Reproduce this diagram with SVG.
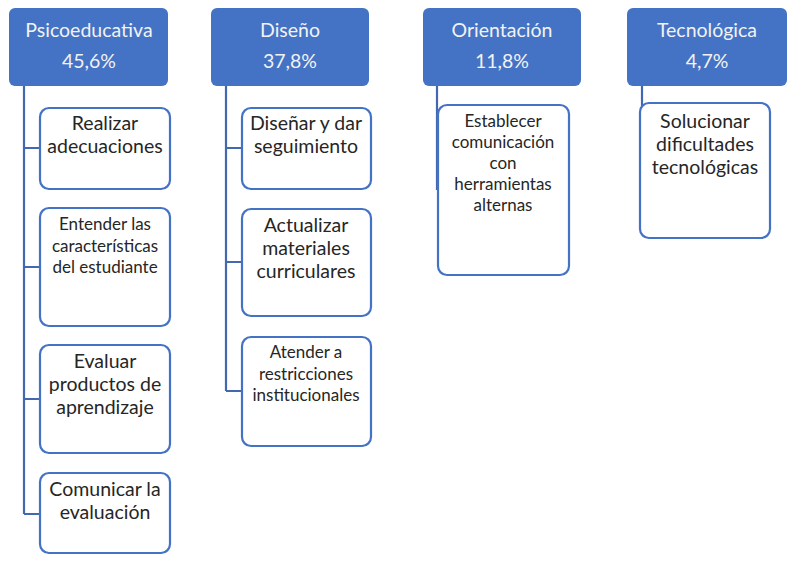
<svg xmlns="http://www.w3.org/2000/svg" width="800" height="567" viewBox="0 0 800 567">
<style>
.hd{fill:#4472C4;}
.ht{fill:#F2F2F2;font-family:Lato,"Liberation Sans",sans-serif;font-size:19.5px;text-anchor:middle;}
.bx{fill:#FFFFFF;stroke:#4472C4;stroke-width:2.2;}
.t{fill:#262626;font-family:Lato,"Liberation Sans",sans-serif;text-anchor:middle;}
.l{font-size:19.5px;}
.s{font-size:17px;}
.c{fill:none;stroke:#4268B0;stroke-width:2.2;}
</style>
<rect width="800" height="567" fill="#FFFFFF"/>
<g id="connectors">
<path class="c" d="M24,86 V514 M24,148 H40 M24,267 H40 M24,399 H40 M24,514 H40"/>
<path class="c" d="M226,86 V391 M226,148 H242 M226,262 H242 M226,391 H242"/>
<path class="c" d="M437,86 V190"/>
<path class="c" d="M642,86 V110"/>
</g>
<g id="h-psico"><rect class="hd" x="9" y="8" width="159" height="78" rx="6"/><text class="ht" x="89" y="37">Psicoeducativa</text><text class="ht" x="89" y="68">45,6%</text></g>
<g id="h-diseno"><rect class="hd" x="211" y="8" width="158" height="78" rx="6"/><text class="ht" x="290" y="37">Diseño</text><text class="ht" x="290" y="68">37,8%</text></g>
<g id="h-orient"><rect class="hd" x="423" y="8" width="158" height="78" rx="6"/><text class="ht" x="502" y="37">Orientación</text><text class="ht" x="502" y="68">11,8%</text></g>
<g id="h-tecno"><rect class="hd" x="627" y="8" width="160" height="78" rx="6"/><text class="ht" x="707" y="37">Tecnológica</text><text class="ht" x="707" y="68">4,7%</text></g>

<g id="p1"><rect class="bx" x="40" y="108" width="130" height="81" rx="9"/><text class="t l" x="105" y="130">Realizar</text><text class="t l" x="105" y="153">adecuaciones</text></g>
<g id="p2"><rect class="bx" x="40" y="208" width="130" height="118" rx="9"/><text class="t s" x="105" y="230">Entender las</text><text class="t s" x="105" y="252">características</text><text class="t s" x="105" y="273">del estudiante</text></g>
<g id="p3"><rect class="bx" x="40" y="345" width="130" height="108" rx="9"/><text class="t l" x="105" y="368">Evaluar</text><text class="t l" x="105" y="391">productos de</text><text class="t l" x="105" y="414">aprendizaje</text></g>
<g id="p4"><rect class="bx" x="40" y="473" width="130" height="80" rx="9"/><text class="t l" x="105" y="496">Comunicar la</text><text class="t l" x="105" y="519">evaluación</text></g>

<g id="d1"><rect class="bx" x="242" y="108" width="129" height="81" rx="9"/><text class="t l" x="306" y="130">Diseñar y dar</text><text class="t l" x="306" y="153">seguimiento</text></g>
<g id="d2"><rect class="bx" x="242" y="209" width="129" height="107" rx="9"/><text class="t l" x="306" y="232">Actualizar</text><text class="t l" x="306" y="255">materiales</text><text class="t l" x="306" y="278">curriculares</text></g>
<g id="d3"><rect class="bx" x="242" y="337" width="129" height="109" rx="9"/><text class="t s" x="306" y="358">Atender a</text><text class="t s" x="306" y="380">restricciones</text><text class="t s" x="306" y="401">institucionales</text></g>

<g id="o1"><rect class="bx" x="438" y="105" width="131" height="170" rx="9"/><text class="t s" x="503" y="127">Establecer</text><text class="t s" x="503" y="148">comunicación</text><text class="t s" x="503" y="169">con</text><text class="t s" x="503" y="190">herramientas</text><text class="t s" x="503" y="211">alternas</text></g>

<g id="t1"><rect class="bx" x="640" y="103" width="130" height="135" rx="9"/><text class="t l" x="705" y="128">Solucionar</text><text class="t l" x="705" y="151">dificultades</text><text class="t l" x="705" y="174">tecnológicas</text></g>
</svg>
